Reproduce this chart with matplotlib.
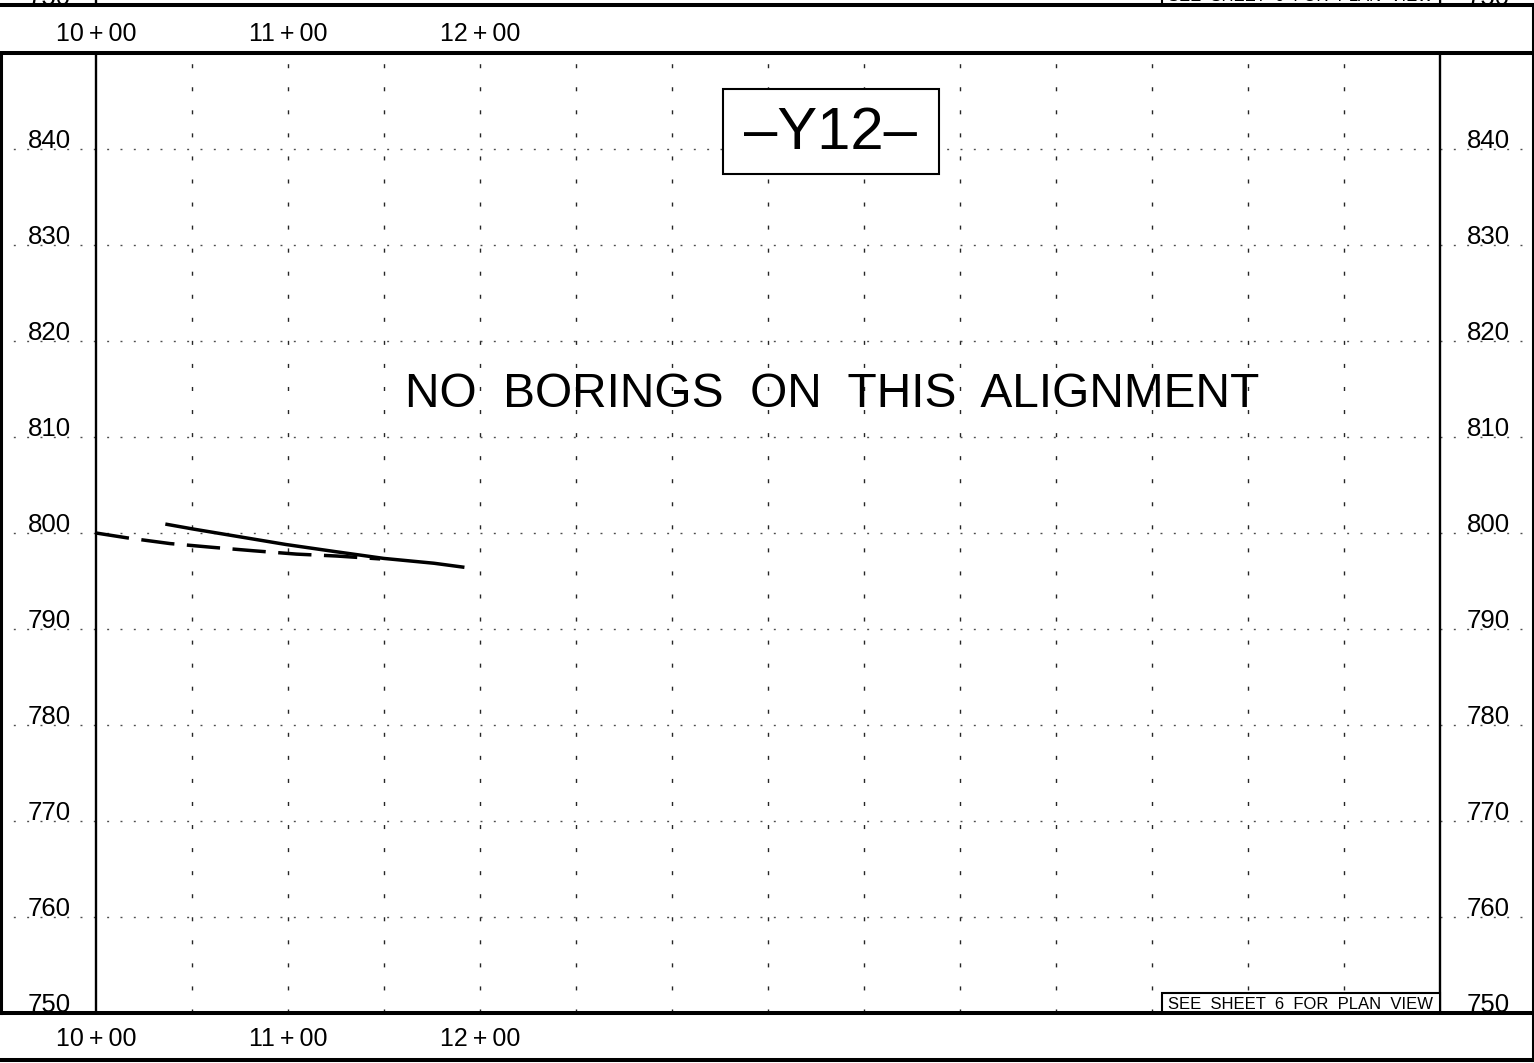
import matplotlib
matplotlib.use('Agg')
import matplotlib.pyplot as plt
import matplotlib.transforms as mtransforms
from matplotlib.lines import Line2D
from matplotlib.patches import Rectangle

# profile sheet -Y12-, stations in ft, elevations in ft
grid_sta = [1050, 1100, 1150, 1200, 1250, 1300, 1350, 1400, 1450, 1500, 1550, 1600, 1650]
elev_grid = [760, 770, 780, 790, 800, 810, 820, 830, 840]
elev_labels = [750, 760, 770, 780, 790, 800, 810, 820, 830, 840]
sta_label_pos = [1000, 1100, 1200]
sta_labels = ['10\u2009+\u200900', '11\u2009+\u200900', '12\u2009+\u200900']

# dashed profile line
ground_sta = [1000, 1016, 1038.5, 1061, 1082, 1104.5, 1125.5, 1148]
ground_elev = [800.0, 799.5, 798.9, 798.5, 798.15, 797.8, 797.6, 797.3]
# solid profile line
grade_sta = [1037, 1051, 1075, 1099, 1125, 1150, 1176, 1191]
grade_elev = [800.9, 800.4, 799.6, 798.8, 798.05, 797.35, 796.85, 796.45]

FONT = ['Liberation Sans', 'DejaVu Sans']
plt.rcParams['font.family'] = FONT

W, H = 1534, 1063
fig = plt.figure(figsize=(W / 100, H / 100), dpi=100)
fig.patch.set_facecolor('white')

# plot box in pixels: x 96..1440, y 53..1013
ax = fig.add_axes([96 / W, 1 - 1013 / H, 1344 / W, 960 / H])
ax.set_xlim(1000, 1700)
ax.set_ylim(750, 850)
ax.set_xticks([])
ax.set_yticks([])
for s in ['top', 'bottom']:
    ax.spines[s].set_visible(False)
for s in ['left', 'right']:
    ax.spines[s].set_linewidth(1.7)

# grid
for x in grid_sta:
    ax.axvline(x, color='0.15', lw=1.0, ls=(0, (2.9, 13.7)), zorder=1)
ytr = ax.get_yaxis_transform()
for y in elev_grid:
    ax.plot([-96 / 1344, 1438 / 1344], [y, y], transform=ytr, clip_on=False,
            color='0.3', lw=1.0, ls=(0, (1.4, 8.2)), zorder=1)

# profile lines
ax.plot(ground_sta, ground_elev, color='black', lw=2.5, ls=(0, (9.6, 3.6)), zorder=3)
ax.plot(grade_sta, grade_elev, color='black', lw=2.5, zorder=3)

# elevation labels both sides
for e in elev_labels:
    ax.text(-47 / 1344, e + 0.1, str(e), transform=ytr, ha='center', va='baseline',
            fontsize=18.5)
    ax.text(1392 / 1344, e + 0.1, str(e), transform=ytr, ha='center', va='baseline',
            fontsize=18.5)

# station labels top and bottom strips
str_tr = mtransforms.blended_transform_factory(ax.transData, fig.transFigure)
for x, lab in zip(sta_label_pos, sta_labels):
    fig.text(x, 1 - 41 / H, lab, transform=str_tr, ha='center', va='baseline', fontsize=18)
    fig.text(x, 1 - 1046 / H, lab, transform=str_tr, ha='center', va='baseline', fontsize=18)

# title box
ax.add_patch(Rectangle((0.4663, 0.874), 0.1609, 0.0885, transform=ax.transAxes,
                       facecolor='white', edgecolor='black', lw=1.5, zorder=4))
ax.text(0.5468, 0.900, '\u2013Y12\u2013', transform=ax.transAxes, ha='center',
        va='baseline', fontsize=43, zorder=5)

ax.text(0.5476, 0.6316, 'NO  BORINGS  ON  THIS  ALIGNMENT', transform=ax.transAxes,
        ha='center', va='baseline', fontsize=34.5, zorder=5)

# plan view note, plus the cut-off copy from the sheet above
for dy in [0, 1.05]:
    ax.add_patch(Rectangle((0.793, dy), 0.207, 0.0208, transform=ax.transAxes,
                           facecolor='white', edgecolor='black', lw=1.5, zorder=4,
                           clip_on=False))
    ax.text(0.8965, dy + 0.004, 'SEE  SHEET  6  FOR  PLAN  VIEW', transform=ax.transAxes,
            ha='center', va='baseline', fontsize=12, zorder=5, clip_on=False)
ax.text(-47 / 1344, 1.05, '750', transform=ax.transAxes, ha='center', va='baseline',
        fontsize=18.5)
ax.text(1392 / 1344, 1.05, '750', transform=ax.transAxes, ha='center', va='baseline',
        fontsize=18.5)
for x in [0, 1]:
    ax.plot([x, x], [1.05, 1.07], transform=ax.transAxes, color='black', lw=1.7,
            clip_on=False)

# sheet frame
for ypx in [5, 53, 1013, 1060]:
    fig.add_artist(Line2D([0, 1], [1 - ypx / H] * 2, color='black', lw=2.9))
fig.add_artist(Line2D([1.2 / W] * 2, [1 - 1013 / H, 1 - 53 / H], color='black', lw=2.2))
fig.add_artist(Line2D([1 - 1.5 / W] * 2, [1 - 1060 / H, 1 - 5 / H], color='black', lw=2.2))

fig.savefig('out.png', dpi=100)
